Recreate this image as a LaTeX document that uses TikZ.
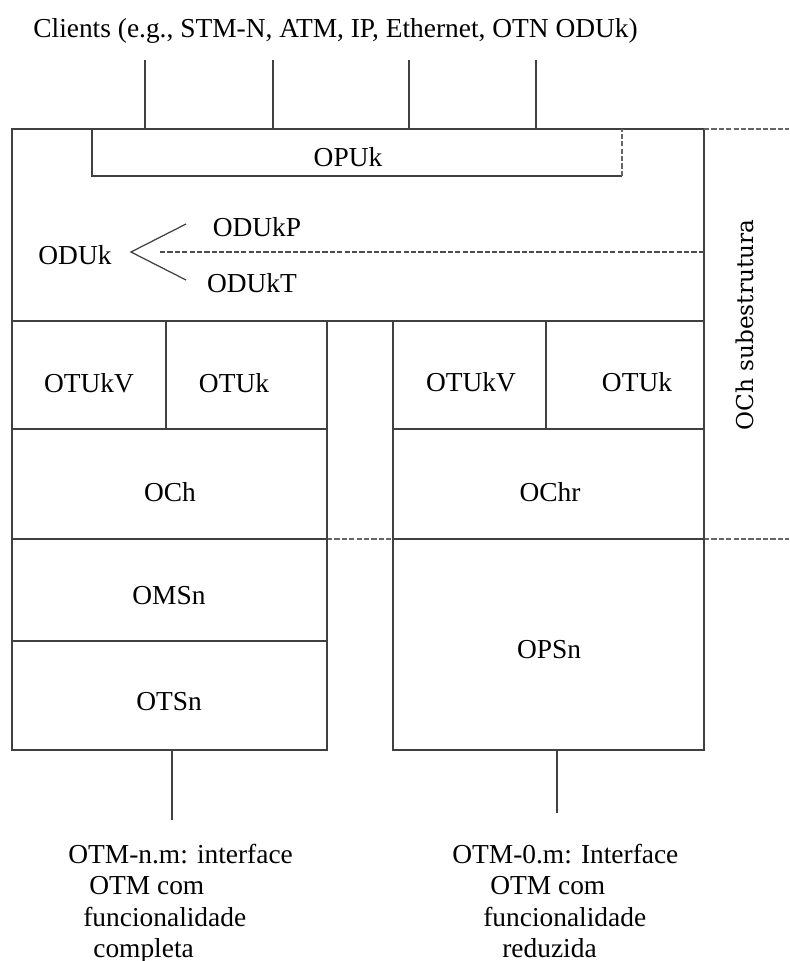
\documentclass[tikz,border=0pt]{standalone}
\usepackage{fontspec}
\setmainfont{Liberation Serif}
\newfontfamily\sidefont{DejaVu Serif}
\usetikzlibrary{positioning, calc}

\begin{document}
\begin{tikzpicture}[
    x=0.02cm, y=-0.02cm,
    every node/.style={inner sep=0pt, font=\fontsize{15.6}{17.8}\selectfont},
    frame/.style={draw=black!75, line width=0.7pt},
    wire/.style={draw=black!75, line width=0.7pt},
    sep/.style={draw=black!60, line width=0.6pt, dash pattern=on 3pt off 1.2pt},
    iface/.style={anchor=north west, align=left}
]
\useasboundingbox (0,0) rectangle (789,961);

% clients on top
\node[anchor=base west] (clients) at (33,37) {Clients (e.g., STM-N, ATM, IP, Ethernet, OTN ODUk)};
\foreach \x [count=\i] in {145,273,409,536} {
    \coordinate (cl\i) at (\x,60);
    \coordinate (in\i) at (\x,129);
    \draw[wire] (cl\i) -- (in\i);
}

% ODUk frame with OPUk inside
\draw[frame] (12,129) rectangle (704,321);
\draw[frame] (92,129) -- (92,176) -- (622,176);
\draw[sep] (622,176) -- (622,129);
\node (opuk) at (348,157) {OPUk};

\node (oduk) at (75,255) {ODUk};
\node (odukp) at (257,227) {ODUkP};
\node (odukt) at (252,283) {ODUkT};
\coordinate (fork) at (131,252);
\coordinate (forkup) at (186,224);
\coordinate (forkdn) at (186,280);
\draw[wire] (forkup) -- (fork) -- (forkdn);
\coordinate (odukend) at (704,252);
\coordinate (odukstart) at (159,252);
\draw[sep, draw=black!70] (odukend) -- (odukstart);

% OCh substructure marks
\draw[sep] (704,129) -- (789,129);
\draw[sep] (704,539) -- (789,539);
\draw[sep] (327,539) -- (393,539);
\node[rotate=90, font=\sidefont\fontsize{13.2}{15}\selectfont] (ochsub) at (745,325) {OCh subestrutura};

% full functionality stack
\draw[frame] (12,321) rectangle (327,750);
\draw[frame] (12,429) -- (327,429);
\draw[frame] (12,539) -- (327,539);
\draw[frame] (12,641) -- (327,641);
\draw[frame] (166,321) -- (166,429);
\node (otukvl) at (89,383) {OTUkV};
\node (otukl) at (234,383) {OTUk};
\node (ochl) at (170,492) {OCh};
\node (omsn) at (169,596) {OMSn};
\node (otsn) at (169,702) {OTSn};

% reduced functionality stack
\draw[frame] (393,321) rectangle (704,750);
\draw[frame] (393,429) -- (704,429);
\draw[frame] (393,539) -- (704,539);
\draw[frame] (546,321) -- (546,429);
\node (otukvr) at (471,382) {OTUkV};
\node (otukr) at (637,382) {OTUk};
\node (ochr) at (550,492) {OChr};
\node (opsn) at (549,650) {OPSn};

% interfaces
\coordinate (lbase) at (172,750);
\coordinate (lend) at (172,820);
\coordinate (rbase) at (557,750);
\coordinate (rend) at (557,813);
\draw[wire] (lbase) -- (lend);
\draw[wire] (rbase) -- (rend);
\node[iface] (otmfull) at (68,844) {OTM-n.m: interface\\\hspace*{0.42cm}OTM com\\\hspace*{0.3cm}funcionalidade\\\hspace*{0.5cm}completa};
\node[iface] (otmred) at (452,844) {OTM-0.m: Interface\\\hspace*{0.76cm}OTM com\\\hspace*{0.62cm}funcionalidade\\\hspace*{1.0cm}reduzida};
\end{tikzpicture}
\end{document}
